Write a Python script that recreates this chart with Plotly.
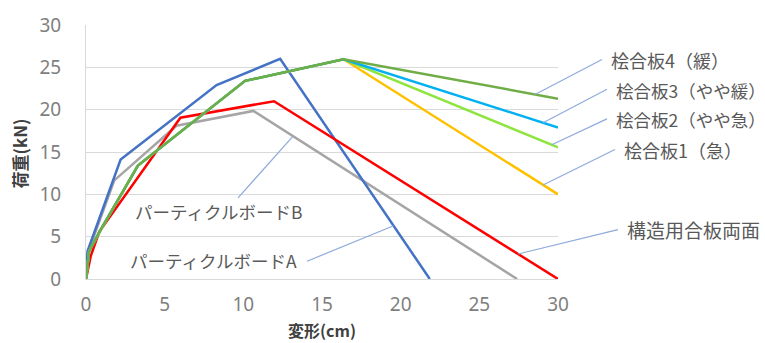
import numpy as np
import plotly.graph_objects as go

# 変形 (cm) と 荷重 (kN) の折れ線データ
pb_a_x = [0, 0.1, 2.2, 8.3, 12.34, 21.85]
pb_a_y = [0, 3.3, 14.1, 22.9, 26.0, 0]

pb_b_x = [0, 0.1, 1.8, 5.75, 10.64, 27.4]
pb_b_y = [0, 3.0, 11.65, 18.1, 19.85, 0]

ply_x = [0, 0.3, 0.85, 6.0, 11.95, 30]
ply_y = [0, 2.7, 5.6, 19.05, 21.0, 0]

# 桧合板は最大荷重まで共通、その後の低下勾配が 4 種類
hinoki_rise_x = [0, 0.2, 0.93, 3.3, 10.11, 16.37]
hinoki_rise_y = [0, 3.3, 5.8, 13.4, 23.4, 25.95]
hinoki_end_x = 30
hinoki_end_y = [10.0, 15.55, 17.9, 21.3]
hinoki_names = ["桧合板1（急）", "桧合板2（やや急）", "桧合板3（やや緩）", "桧合板4（緩）"]
hinoki_colors = ["#FFC000", "#8EE53F", "#00B0F0", "#70AD47"]

x_ticks = [0, 5, 10, 15, 20, 25, 30]
y_ticks = [0, 5, 10, 15, 20, 25, 30]

# 図の寸法 (px)
W, H = 765, 343
L, R, T, B = 86, 558, 22, 279
XR = (0, 30)
YR = (0, 30)

def paper_x(px):
    return (px - L) / (R - L)

def paper_y(py):
    return (B - py) / (B - T)

def data_to_paper(xv, yv):
    return ((xv - XR[0]) / (XR[1] - XR[0]), (yv - YR[0]) / (YR[1] - YR[0]))

fig = go.Figure()

series = [
    ("パーティクルボードB", pb_b_x, pb_b_y, "#A5A5A5"),
    ("パーティクルボードA", pb_a_x, pb_a_y, "#4472C4"),
    ("構造用合板両面", ply_x, ply_y, "#FF0000"),
]
hinoki_series = []
for name, end_y, color in zip(hinoki_names, hinoki_end_y, hinoki_colors):
    xs = hinoki_rise_x + [hinoki_end_x]
    ys = hinoki_rise_y + [end_y]
    hinoki_series.append((name, xs, ys, color))

for name, xs, ys, color in series + hinoki_series:
    fig.add_trace(go.Scatter(
        x=xs, y=ys, mode="lines", name=name,
        line=dict(color=color, width=2.5),
        showlegend=False, hoverinfo="skip",
    ))

lookup = {name: (xs, ys) for name, xs, ys, _ in series + hinoki_series}

# ラベル: (系列名, 引出線の接点 x, 引出線の端 px, 文字の左端・中心 px, 文字サイズ)
labels = [
    ("桧合板4（緩）", 28.54, (602, 57), (609, 57), 18),
    ("桧合板3（やや緩）", 29.05, (607, 87), (614, 88), 17.5),
    ("桧合板2（やや急）", 29.6, (607, 117), (614, 118), 17.5),
    ("桧合板1（急）", 29.05, (615, 148), (622, 148), 18),
    ("構造用合板両面", 27.46, (618, 229), (625, 229), 19),
    ("パーティクルボードB", 13.16, (238, 197), (133, 211), 17.5),
    ("パーティクルボードA", 19.55, (307, 261), (128, 260), 17.5),
]

shapes = []
annotations = []
for name, tip_x, end_px, text_px, size in labels:
    xs, ys = lookup[name]
    tip_y = float(np.interp(tip_x, xs, ys))
    tx, ty = data_to_paper(tip_x, tip_y)
    shapes.append(dict(
        type="line", xref="paper", yref="paper",
        x0=tx, y0=ty, x1=paper_x(end_px[0]), y1=paper_y(end_px[1]),
        line=dict(color="#8FAADC", width=1.2), layer="above",
    ))
    annotations.append(dict(
        text=name, xref="paper", yref="paper",
        x=paper_x(text_px[0]), y=paper_y(text_px[1]),
        xanchor="left", yanchor="middle", showarrow=False,
        font=dict(size=size, color="#595959", family="Noto Sans CJK JP"),
    ))

# 軸タイトル
annotations.append(dict(
    text="<b>変形(cm)</b>", xref="paper", yref="paper",
    x=0.5, y=paper_y(331), xanchor="center", yanchor="middle",
    showarrow=False, font=dict(size=16, color="#404040", family="Noto Sans CJK JP"),
))
annotations.append(dict(
    text="<b>荷重(kN)</b>", xref="paper", yref="paper",
    x=paper_x(19), y=paper_y(152), xanchor="center", yanchor="middle",
    textangle=-90, showarrow=False,
    font=dict(size=17, color="#404040", family="Noto Sans CJK JP"),
))

tick_font = dict(size=19, color="#7F7F7F", family="Noto Sans")

fig.update_layout(
    width=W, height=H,
    margin=dict(l=L, r=W - R, t=T, b=H - B, pad=0),
    paper_bgcolor="white", plot_bgcolor="white",
    shapes=shapes, annotations=annotations,
    font=dict(family="Noto Sans CJK JP", color="#7F7F7F"),
    xaxis=dict(
        range=list(XR), tickmode="array", tickvals=x_ticks,
        showgrid=False, zeroline=False, showline=True, linecolor="#D9D9D9",
        linewidth=1, ticks="", ticklabelstandoff=8,
        tickfont=tick_font,
    ),
    yaxis=dict(
        range=list(YR), tickmode="array", tickvals=y_ticks,
        showgrid=True, gridcolor="#D9D9D9", gridwidth=1,
        zeroline=False, showline=True, linecolor="#D9D9D9", linewidth=1,
        ticks="", ticklabelstandoff=20,
        tickfont=tick_font,
    ),
)

fig.write_html("out.html")
